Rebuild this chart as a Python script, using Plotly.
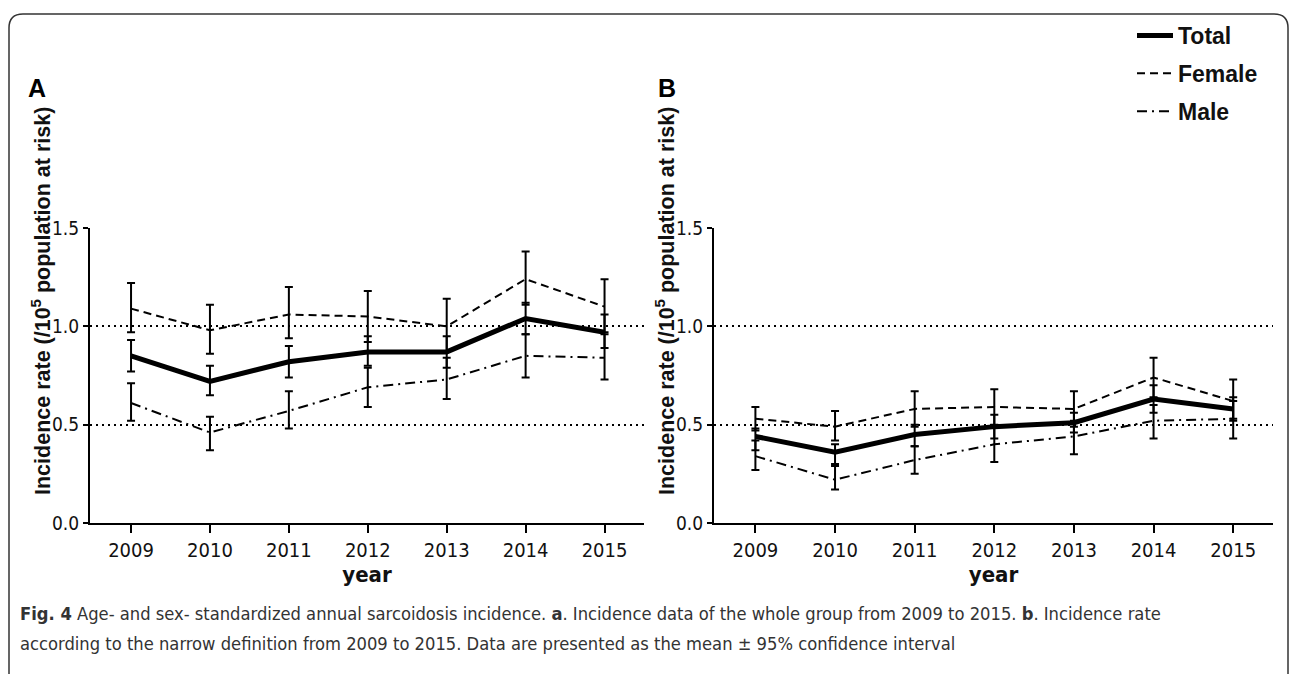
import plotly.graph_objects as go

years = [2009, 2010, 2011, 2012, 2013, 2014, 2015]

# Panel A: whole group
A_total = [0.85, 0.72, 0.82, 0.87, 0.87, 1.04, 0.97]
A_total_lo = [0.77, 0.65, 0.74, 0.80, 0.79, 0.96, 0.89]
A_total_hi = [0.93, 0.80, 0.90, 0.95, 0.95, 1.12, 1.06]
A_female = [1.09, 0.98, 1.06, 1.05, 1.00, 1.24, 1.10]
A_female_lo = [0.97, 0.86, 0.94, 0.92, 0.87, 1.11, 0.97]
A_female_hi = [1.22, 1.11, 1.20, 1.18, 1.14, 1.38, 1.24]
A_male = [0.61, 0.46, 0.57, 0.69, 0.73, 0.85, 0.84]
A_male_lo = [0.52, 0.37, 0.48, 0.59, 0.63, 0.74, 0.73]
A_male_hi = [0.71, 0.54, 0.67, 0.79, 0.84, 0.96, 0.96]

# Panel B: narrow definition
B_total = [0.44, 0.36, 0.45, 0.49, 0.51, 0.63, 0.58]
B_total_lo = [0.37, 0.30, 0.39, 0.43, 0.46, 0.56, 0.53]
B_total_hi = [0.48, 0.40, 0.50, 0.55, 0.56, 0.70, 0.64]
B_female = [0.53, 0.49, 0.58, 0.59, 0.58, 0.74, 0.62]
B_female_lo = [0.47, 0.42, 0.49, 0.50, 0.49, 0.64, 0.52]
B_female_hi = [0.59, 0.57, 0.67, 0.68, 0.67, 0.84, 0.73]
B_male = [0.34, 0.22, 0.32, 0.40, 0.44, 0.52, 0.53]
B_male_lo = [0.27, 0.17, 0.25, 0.31, 0.35, 0.43, 0.43]
B_male_hi = [0.42, 0.29, 0.39, 0.49, 0.52, 0.60, 0.62]

y_ticks = [0.0, 0.5, 1.0, 1.5]
series_names = ["Total", "Female", "Male"]

W, H = 1292, 674
NARROW = "DejaVu Sans Condensed, Liberation Sans Narrow, sans-serif"
SANS = "Liberation Sans, Arial, sans-serif"

styles = {
    "Total": dict(width=5, dash="solid"),
    "Female": dict(width=2, dash="8px,5px"),
    "Male": dict(width=2, dash="10px,5px,2px,5px"),
}

fig = go.Figure()

panels = [
    ("x", "y", {"Total": (A_total, A_total_lo, A_total_hi),
                "Female": (A_female, A_female_lo, A_female_hi),
                "Male": (A_male, A_male_lo, A_male_hi)}, False),
    ("x2", "y2", {"Total": (B_total, B_total_lo, B_total_hi),
                  "Female": (B_female, B_female_lo, B_female_hi),
                  "Male": (B_male, B_male_lo, B_male_hi)}, True),
]

for xa, ya, data, show in panels:
    for name in ["Male", "Female", "Total"]:
        m, lo, hi = data[name]
        fig.add_trace(go.Scatter(
            x=years, y=m, mode="lines", name=name, xaxis=xa, yaxis=ya,
            line=dict(color="black", **styles[name]),
            error_y=dict(type="data", symmetric=False,
                         array=[h - v for h, v in zip(hi, m)],
                         arrayminus=[v - l for v, l in zip(m, lo)],
                         color="black", thickness=2, width=4),
            showlegend=show, legendgroup=name,
            legendrank={"Total": 1, "Female": 2, "Male": 3}[name],
        ))

def px_x(p):
    return p / W

def px_y(p):
    return 1 - p / H

y_dom = [px_y(523), px_y(228)]
xaxis_common = dict(
    range=[2008.48, 2015.5], tickvals=years, ticktext=[str(v) for v in years],
    showline=True, linecolor="black", linewidth=2, ticks="outside", ticklen=8,
    tickwidth=2, tickcolor="black", showgrid=False, zeroline=False,
    tickfont=dict(family=NARROW, size=20, color="#111"),
    title=dict(text="year", font=dict(family=NARROW, size=22, color="#111", weight="bold"), standoff=6),
    automargin=False, fixedrange=True,
)
yaxis_common = dict(
    range=[0, 1.5], tickvals=y_ticks, tickformat=".1f",
    showline=True, linecolor="black", linewidth=2, ticks="outside", ticklen=5,
    tickwidth=2, tickcolor="black", showgrid=True, gridcolor="black",
    gridwidth=2, griddash="2px,4px", zeroline=False,
    tickfont=dict(family=NARROW, size=19, color="#111"),
    automargin=False, fixedrange=True,
)

fig.update_layout(
    width=W, height=H, margin=dict(l=0, r=0, t=0, b=0),
    paper_bgcolor="white", plot_bgcolor="white",
    xaxis=dict(domain=[px_x(90), px_x(644)], anchor="y", **xaxis_common),
    yaxis=dict(domain=y_dom, anchor="x", **yaxis_common),
    xaxis2=dict(domain=[px_x(714), px_x(1273)], anchor="y2", **xaxis_common),
    yaxis2=dict(domain=y_dom, anchor="x2", **yaxis_common),
    legend=dict(x=px_x(1132), y=px_y(14), xanchor="left", yanchor="top",
                traceorder="grouped", tracegroupgap=5, itemwidth=36,
                font=dict(family=SANS, size=23, color="#111", weight="bold"),
                bgcolor="rgba(0,0,0,0)", itemclick=False, itemdoubleclick=False),
    showlegend=True,
)

ytitle = "Incidence rate (/10<sup>5</sup> population at risk)"
ann = []
for xc in [41, 665]:
    ann.append(dict(text=ytitle, x=px_x(xc), y=px_y(301), xref="paper", yref="paper",
                    textangle=-90, showarrow=False, xanchor="center", yanchor="middle",
                    font=dict(family=SANS, size=21.5, color="#111", weight="bold")))
for lab, xc in [("A", 37), ("B", 667)]:
    ann.append(dict(text=lab, x=px_x(xc), y=px_y(88), xref="paper", yref="paper",
                    showarrow=False, xanchor="center", yanchor="middle",
                    font=dict(family=SANS, size=25, color="black", weight="bold")))
cap1 = ("<b>Fig. 4</b> Age- and sex- standardized annual sarcoidosis incidence. <b>a</b>. "
        "Incidence data of the whole group from 2009 to 2015. <b>b</b>. Incidence rate")
cap2 = ("according to the narrow definition from 2009 to 2015. Data are presented as the "
        "mean ± 95% confidence interval")
for txt, yc in [(cap1, 613), (cap2, 643)]:
    ann.append(dict(text=txt, x=px_x(18), y=px_y(yc), xref="paper", yref="paper",
                    showarrow=False, xanchor="left", yanchor="middle",
                    font=dict(family=NARROW, size=18.2, color="#333")))
fig.update_layout(annotations=ann)

# outer rounded frame (open at the bottom)
r = 14
x0, x1, y0 = 9, 1288, 14
path = (f"M {px_x(x0)} {px_y(700)} L {px_x(x0)} {px_y(y0 + r)} "
        f"Q {px_x(x0)} {px_y(y0)} {px_x(x0 + r)} {px_y(y0)} "
        f"L {px_x(x1 - r)} {px_y(y0)} Q {px_x(x1)} {px_y(y0)} {px_x(x1)} {px_y(y0 + r)} "
        f"L {px_x(x1)} {px_y(700)}")
fig.add_shape(type="path", path=path, xref="paper", yref="paper",
              line=dict(color="#333", width=1.5))

fig.write_html("out.html", config={"displayModeBar": False},
               post_script="document.body.style.margin='0';document.body.style.overflow='hidden';")
